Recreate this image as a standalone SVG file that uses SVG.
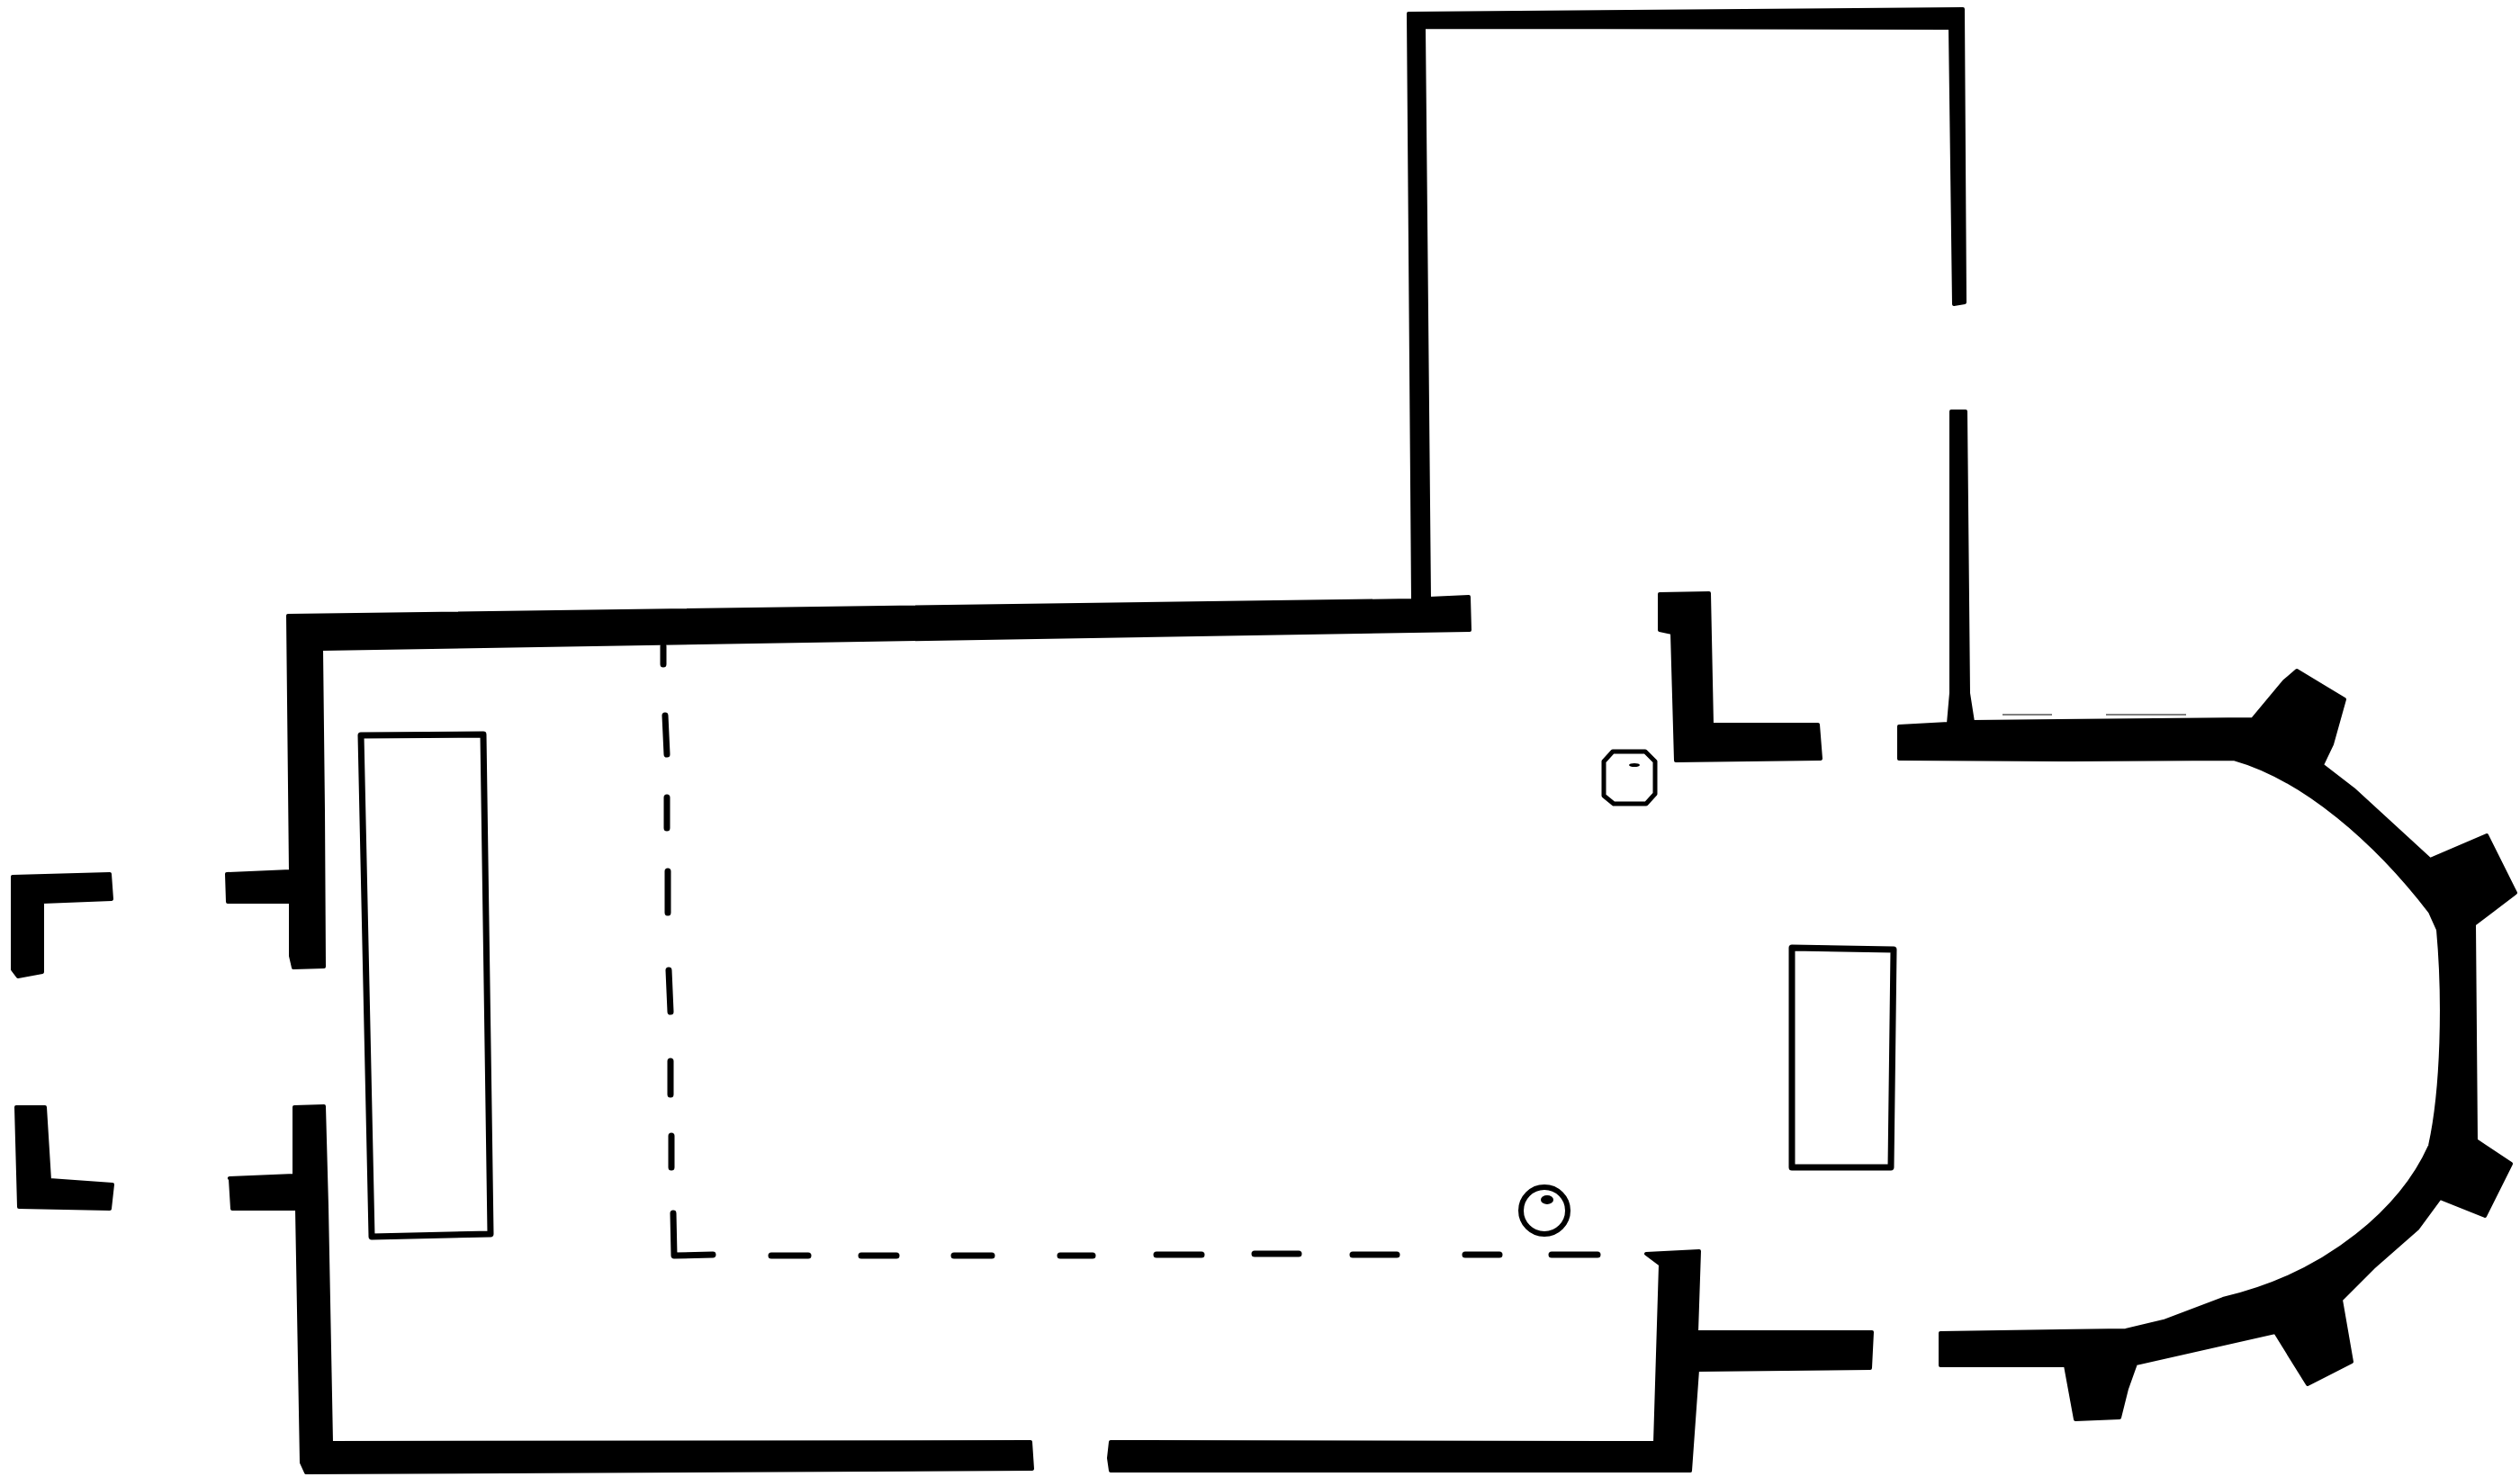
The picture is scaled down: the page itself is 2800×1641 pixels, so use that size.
<svg xmlns="http://www.w3.org/2000/svg" width="2800" height="1641" viewBox="0 0 2800 1641">
<style>
.w{fill:#000;stroke:#000;stroke-width:4;stroke-linejoin:round}
.o{fill:none;stroke:#000;stroke-width:7;stroke-linejoin:round}
.d{fill:none;stroke:#000;stroke-width:7;stroke-linecap:round;stroke-linejoin:round}
</style>
<rect width="2800" height="1641" fill="#fff"/>
<g id="walls">
<path class="w" d="M320 684L1570 667L1565 15L2181 10L2183 336L2171 338L2167 31L1582 30L1588 665L1632 663L1633 700L357 721L359 900L360 1074L326 1075L323 1062L323 1002L253 1002L252 971L323 968Z"/>
<path class="w" d="M327 1230L360 1229L363 1340L368 1603L1145 1602L1147 1632L340 1636L335 1625L330 1343L258 1343L256 1310L255 1309L327 1306Z"/>
<path class="w" d="M14 974L122 971L124 999L47 1002L47 1080L20 1085L14 1077Z"/>
<path class="w" d="M18 1230L50 1230L55 1311L125 1316L122 1343L21 1341Z"/>
<path class="w" d="M1234 1602L1839 1603L1845 1405L1829 1393L1888 1390L1885 1480L2080 1480L2078 1520L1886 1522L1878 1634L1234 1634L1232 1620Z"/>
<path class="w" d="M1844 660L1899 659L1902 805L2020 805L2023 843L1862 845L1858 703L1844 700Z"/>
<path class="w" d="M2110 807L2165 804L2168 770L2168 457L2184 457L2187 770L2192 802L2503 799L2538 757L2552 745L2605 777L2591 827L2580 850L2615 877L2700 955L2763 928L2795 992L2749 1027L2751 1267L2790 1293L2761 1351L2711 1331L2686 1365L2637 1408L2601 1444L2613 1513L2564 1538L2528 1480L2373 1515L2363 1543L2355 1575L2306 1577L2295 1517L2156 1517L2156 1481L2362 1478L2404 1468L2470 1443C2590 1415 2670 1340 2700 1273C2714 1210 2716 1110 2709 1033L2700 1013C2640 935 2560 865 2482 843L2300 844L2110 843Z"/>
</g>
<g id="furnishings">
<path class="o" d="M401 817L537 816L545 1371L413 1374Z"/>
<path class="o" d="M1991 1053L2104 1055L2101 1297L1991 1297Z"/>
<path class="o" d="M1792 835H1828L1839 846V882L1829 893H1793L1782 884V846Z" style="stroke-width:5"/>
<ellipse cx="1816" cy="850" rx="6" ry="2" fill="#000"/>
<circle cx="1716" cy="1345" r="26" fill="none" stroke="#000" stroke-width="6"/>
<ellipse cx="1719" cy="1333" rx="7" ry="5" fill="#000"/>
<path d="M2225 794H2280M2340 794H2429" stroke="#000" stroke-width="1" fill="none"/>
</g>
<g id="dashes">
<path class="d" d="M737 718V738M739 795L741 838M741 886V920M742 968V1014M743 1078L745 1124M745 1179V1216M746 1262V1297"/>
<path class="d" d="M748 1348L749 1395L792 1394"/>
<path class="d" d="M857 1395H898M957 1395H996M1060 1395H1102M1178 1395H1214M1285 1394H1335M1394 1393H1443M1503 1394H1552M1628 1394H1666M1724 1394H1775"/>
</g>
</svg>
